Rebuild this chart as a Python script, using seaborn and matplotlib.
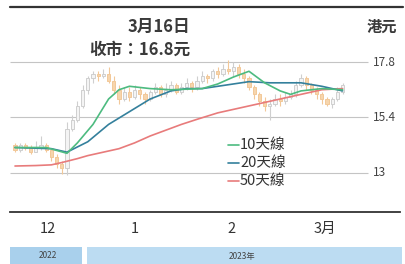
import numpy as np
import matplotlib
matplotlib.use("Agg")
import matplotlib.pyplot as plt
from matplotlib.lines import Line2D
from matplotlib.patches import Rectangle
import pandas as pd
import seaborn as sns

# daily candles, 9 Dec 2022 .. 16 Mar 2023 (trading day index 0..63)
opens = [14.2, 14.0, 14.2, 14.1, 13.9, 14.1, 14.2, 14.0, 13.7, 13.4,
         13.2, 14.9, 15.3, 15.9, 16.6, 17.1, 17.3, 17.2, 17.3, 17.0,
         16.6, 16.2, 16.5, 16.3, 16.6, 16.4, 16.2, 16.5, 16.7, 16.4,
         16.6, 16.8, 16.5, 16.7, 16.9, 16.7, 17.0, 17.2, 17.1, 17.4,
         17.3, 17.5, 17.4, 17.6, 17.3, 17.1, 16.7, 16.4, 16.1, 15.9,
         16.0, 16.2, 16.1, 16.3, 16.4, 16.8, 17.1, 16.8, 16.6, 16.4,
         16.2, 16.0, 16.2, 16.5]
closes = [14.0, 14.2, 14.1, 13.9, 14.1, 14.2, 14.0, 13.7, 13.4, 13.2,
          14.9, 15.3, 15.9, 16.6, 17.1, 17.3, 17.2, 17.3, 17.0, 16.6,
          16.2, 16.5, 16.3, 16.6, 16.4, 16.2, 16.5, 16.7, 16.4, 16.6,
          16.8, 16.5, 16.7, 16.9, 16.7, 17.0, 17.2, 17.1, 17.4, 17.3,
          17.5, 17.4, 17.6, 17.3, 17.1, 16.7, 16.4, 16.1, 15.9, 16.0,
          16.2, 16.1, 16.3, 16.4, 16.8, 17.1, 16.8, 16.6, 16.4, 16.2,
          16.0, 16.2, 16.5, 16.8]
highs = [14.3, 14.3, 14.3, 14.2, 14.4, 14.6, 14.3, 14.0, 13.8, 13.5,
         15.2, 15.5, 16.1, 16.8, 17.2, 17.4, 17.4, 17.5, 17.6, 17.2,
         16.8, 16.7, 16.7, 16.8, 16.7, 16.5, 16.6, 16.9, 16.8, 16.9,
         17.0, 16.9, 16.9, 17.1, 17.0, 17.2, 17.4, 17.3, 17.5, 17.6,
         17.7, 17.9, 17.8, 17.7, 17.5, 17.2, 16.8, 16.5, 16.3, 16.2,
         16.4, 16.4, 16.5, 16.6, 17.0, 17.3, 17.2, 16.9, 16.7, 16.5,
         16.3, 16.3, 16.7, 16.9]
lows = [13.9, 13.9, 14.0, 13.8, 13.9, 14.0, 13.9, 13.5, 13.2, 12.95,
        12.9, 14.8, 15.2, 15.8, 16.4, 16.9, 17.0, 17.1, 16.9, 16.4,
        16.0, 16.1, 16.1, 16.2, 16.2, 16.0, 16.1, 16.4, 16.3, 16.3,
        16.5, 16.4, 16.4, 16.6, 16.5, 16.6, 16.9, 16.9, 17.0, 17.1,
        17.2, 17.3, 17.2, 17.1, 16.9, 16.6, 16.2, 15.9, 15.7, 15.3,
        15.9, 15.9, 16.0, 16.2, 16.3, 16.7, 16.6, 16.4, 16.2, 16.0,
        15.9, 15.8, 16.1, 16.4]

# moving averages
ma10_day = [0, 6, 10, 12, 15, 18, 20, 22, 26, 30, 36, 39, 42, 45, 48, 51, 53, 55, 59, 63]
ma10_val = [14.1, 14.1, 13.85, 14.3, 15.1, 16.2, 16.6, 16.75, 16.65, 16.6,
            16.65, 16.85, 17.15, 17.4, 16.9, 16.55, 16.4, 16.55, 16.65, 16.6]
ma20_day = [0, 7, 10, 14, 18, 22, 26, 30, 33, 36, 39, 45, 49, 55, 59, 63]
ma20_val = [14.1, 14.05, 13.9, 14.35, 15.1, 15.65, 16.2, 16.55, 16.65, 16.65,
            16.75, 16.95, 16.9, 16.9, 16.75, 16.55]
ma50_day = [0, 4, 7, 9, 12, 14, 17, 20, 23, 26, 29, 32, 35, 39, 44, 49, 52, 55, 59, 63]
ma50_val = [13.3, 13.32, 13.35, 13.45, 13.62, 13.75, 13.9, 14.05, 14.3, 14.6,
            14.85, 15.1, 15.32, 15.6, 15.85, 16.1, 16.25, 16.4, 16.6, 16.65]

month_labels = ["12", "1", "2", "3月"]
month_pos = [6.3, 23.0, 41.7, 59.6]
month_breaks = [13.5, 31.5, 51.5]
grid_levels = [17.8, 15.4, 13]
grid_labels = ["17.8", "15.4", "13"]
legend_labels = ["10天線", "20天線", "50天線"]

sns.set_style("white")
plt.rcParams["font.family"] = ["Noto Sans CJK TC", "DejaVu Sans"]

W, H = 406, 264
fig = plt.figure(figsize=(W / 100, H / 100), dpi=100)
fig.patch.set_facecolor("white")


def fx(px):
    return px / W


def fy(py):
    return 1 - py / H


ax = fig.add_axes([fx(10), fy(212), fx(390), (212 - 50) / H])
ax.set_xlim(-0.96, 74.04)
ax.set_ylim(11.31, 18.32)

# gridlines
for lv, lb in zip(grid_levels, grid_labels):
    ax.hlines(lv, -0.96, 67.9, color="#c4c4c4", lw=0.8, zorder=0)
    ax.text(68.8, lv, lb, ha="left", va="center", fontsize=8.5, color="#444444")

# candles
days = np.arange(len(closes))
o = np.array(opens)
c = np.array(closes)
up = c >= o
cols = np.where(up, "#cfcfcf", "#f2c898")
ax.vlines(days, lows, highs, colors=cols, lw=0.8, zorder=1)
ax.bar(days, np.maximum(np.abs(c - o), 0.04), bottom=np.minimum(o, c), width=0.65,
       color=np.where(up, "#f4f4f4", "#f6d5ad"), edgecolor=cols, linewidth=0.7, zorder=2)

# moving averages
line_cols = ["#4dbb80", "#34809c", "#e87b7b"]
ma10 = pd.DataFrame({"day": ma10_day, "price": ma10_val})
ma20 = pd.DataFrame({"day": ma20_day, "price": ma20_val})
ma50 = pd.DataFrame({"day": ma50_day, "price": ma50_val})
sns.lineplot(data=ma50, x="day", y="price", ax=ax, color=line_cols[2], lw=1.2, zorder=3)
sns.lineplot(data=ma20, x="day", y="price", ax=ax, color=line_cols[1], lw=1.2, zorder=4)
sns.lineplot(data=ma10, x="day", y="price", ax=ax, color=line_cols[0], lw=1.2, zorder=5)

for s in ["top", "left", "right"]:
    ax.spines[s].set_visible(False)
ax.spines["bottom"].set_color("#333333")
ax.spines["bottom"].set_linewidth(1.3)
ax.set_yticks([])
ax.set_xticks(month_breaks)
ax.set_xticklabels([])
ax.tick_params(axis="x", which="major", direction="in", length=7, width=1, color="#333333")
ax.set_xticks(month_pos, month_labels, minor=True)
ax.tick_params(axis="x", which="minor", length=0, pad=7, labelsize=10.5, labelcolor="#333333")
ax.set_xlabel("")
ax.set_ylabel("")

# legend
leg_y = [145, 163, 181]
for lb, col, y in zip(legend_labels, line_cols, leg_y):
    fig.add_artist(Line2D([fx(228), fx(239)], [fy(y), fy(y)], color=col, lw=1.2,
                          transform=fig.transFigure))
    fig.text(fx(240), fy(y), lb, ha="left", va="center", fontsize=10.5, color="#333333")

# header
fig.add_artist(Line2D([fx(10), fx(403)], [fy(7), fy(7)], color="#333333", lw=1.6,
                      transform=fig.transFigure))
fig.text(fx(190), fy(27), "3月16日", ha="right", va="center", fontsize=12,
         fontweight="bold", color="#3a3a3a")
fig.text(fx(190), fy(50), "收市：16.8元", ha="right", va="center", fontsize=12,
         fontweight="bold", color="#3a3a3a")
fig.text(fx(382), fy(27), "港元", ha="center", va="center", fontsize=11,
         fontweight="bold", color="#3a3a3a")

# year band
fig.add_artist(Rectangle((fx(10), 0), fx(72), 17 / H, color="#a9d0ec",
                         transform=fig.transFigure, lw=0))
fig.add_artist(Rectangle((fx(87), 0), fx(315), 17 / H, color="#bcdcf2",
                         transform=fig.transFigure, lw=0))
fig.text(fx(48), fy(256), "2022", ha="center", va="center", fontsize=6, color="#444444")
fig.text(fx(242), fy(256), "2023年", ha="center", va="center", fontsize=6, color="#444444")

fig.savefig("out.png", dpi=100)
